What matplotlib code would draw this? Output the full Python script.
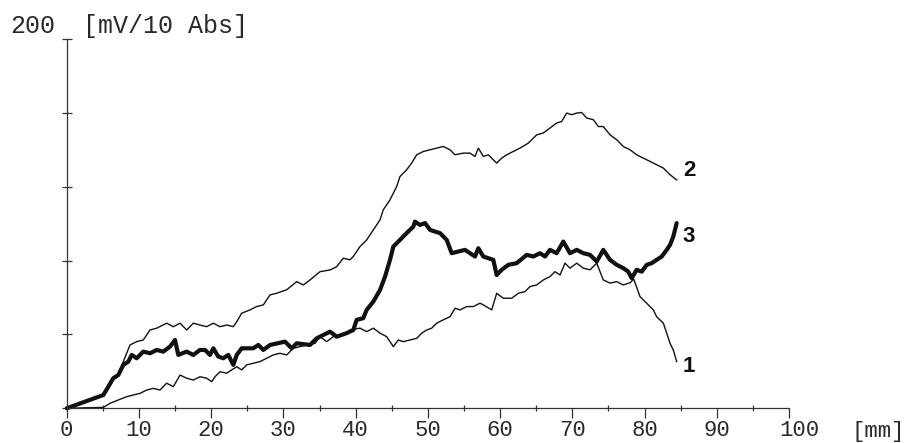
import matplotlib
matplotlib.use("Agg")
import matplotlib.pyplot as plt
from matplotlib.transforms import ScaledTranslation

# Absorbance profiles along the track, distance in mm, signal in mV/10 Abs
x1 = [0, 5.07, 6.0, 7.14, 8.31, 9.22, 10.15, 11.08, 11.99, 12.92, 13.84, 14.76,
      15.69, 16.61, 17.53, 18.45, 19.38, 20.07, 20.53, 21.22, 22.15, 22.84, 23.54,
      24.23, 24.92, 25.83, 26.76, 27.69, 28.6, 29.53, 30.46, 31.37, 32.3, 33.23,
      34.38, 35.07, 35.99, 36.91, 37.84, 38.76, 39.22, 40.61, 41.53, 42.45, 43.38,
      44.3, 45.22, 45.91, 46.6, 47.53, 48.46, 49.15, 49.84, 50.53, 51.22, 52.14,
      53.07, 53.76, 54.45, 55.38, 56.29, 57.22, 57.68, 58.84, 59.53, 60.45, 61.61,
      62.53, 63.45, 64.14, 65.07, 65.98, 66.91, 67.6, 68.3, 68.99, 69.68, 70.61,
      71.52, 72.45, 73.38, 74.29, 75.22, 76.15, 77.06, 77.99, 78.5, 79.37, 80.3,
      81.21, 81.68, 82.6, 83.07, 83.53, 83.98, 84.45]
y1 = [0, 0.5, 2.7, 4.5, 6.3, 7.2, 8.1, 9.9, 10.8, 9.9, 13.6, 11.7,
      18.0, 16.3, 15.3, 17.1, 16.3, 14.4, 17.1, 19.8, 19.0, 20.8, 22.5,
      20.8, 23.5, 24.4, 25.3, 27.1, 28.9, 29.8, 28.9, 32.5, 33.4, 34.3,
      35.2, 38.8, 36.1, 38.8, 39.7, 40.7, 42.4, 43.4, 41.5, 43.4, 40.7,
      38.8, 33.4, 37.0, 36.1, 37.0, 37.9, 40.7, 42.4, 43.4, 46.1, 47.9,
      49.6, 54.2, 53.3, 55.1, 55.1, 56.9, 56.0, 53.3, 62.3, 59.6, 59.6,
      62.3, 63.2, 65.9, 66.8, 69.5, 71.3, 74.0, 72.2, 78.6, 75.9, 78.6,
      75.9, 75.0, 78.6, 69.5, 67.8, 68.6, 66.8, 68.0, 70.0, 60.5, 56.9,
      53.3, 49.6, 46.1, 40.7, 35.2, 31.6, 25.3]

x2 = [0, 5.07, 5.76, 6.45, 7.14, 7.84, 8.76, 9.69, 10.6, 11.53, 12.46, 13.84,
      14.76, 15.69, 16.61, 17.53, 18.45, 19.38, 20.3, 21.22, 22.15, 23.07, 23.54,
      24.23, 25.38, 26.3, 27.22, 28.15, 29.07, 30.46, 31.84, 32.76, 33.68, 35.07,
      36.45, 37.38, 38.29, 39.22, 39.68, 40.61, 41.53, 42.45, 43.38, 43.83, 44.76,
      45.68, 46.14, 47.07, 47.76, 48.46, 49.38, 50.3, 51.22, 52.14, 53.07, 53.76,
      54.91, 55.84, 56.53, 56.99, 57.68, 58.37, 59.06, 59.53, 60.22, 60.92, 61.83,
      62.76, 63.91, 65.07, 65.98, 66.91, 67.84, 68.53, 69.22, 69.92, 70.61, 71.3,
      71.99, 72.91, 73.6, 74.29, 75.22, 76.15, 77.06, 77.99, 78.91, 79.83, 80.76,
      81.68, 82.6, 83.53, 84.45]
y2 = [0, 7.2, 11.7, 16.3, 18.5, 25.3, 34.3, 36.1, 37.0, 42.4, 43.4, 46.1,
      44.2, 46.1, 42.4, 46.1, 45.1, 44.2, 46.1, 44.2, 45.1, 44.2, 46.9,
      51.5, 53.3, 55.1, 56.0, 61.4, 62.3, 64.2, 68.6, 66.8, 69.5, 74.0,
      74.9, 76.7, 81.3, 80.4, 82.2, 87.6, 91.2, 96.6, 102.1, 107.5, 112.9,
      120.1, 125.5, 129.2, 132.8, 137.3, 139.1, 140.0, 140.9, 141.8, 140.0, 137.3,
      138.2, 138.2, 136.4, 140.9, 136.4, 137.3, 134.6, 132.8, 135.5, 137.3, 139.1,
      140.9, 143.6, 148.1, 149.1, 151.8, 154.5, 155.3, 159.9, 159.0, 159.9, 160.2,
      157.2, 156.3, 152.6, 152.6, 148.1, 145.4, 141.8, 140.0, 137.3, 135.5, 133.7,
      131.9, 130.1, 126.5, 123.7]

x3 = [0, 5.07, 5.76, 6.45, 7.14, 7.84, 8.53, 9.0, 9.69, 10.6, 11.53, 12.46,
      13.37, 14.3, 15.0, 15.45, 16.6, 17.53, 18.45, 19.15, 19.84, 20.3, 20.99,
      21.68, 22.37, 23.07, 23.54, 24.23, 25.83, 26.53, 27.22, 28.15, 30.22, 31.15,
      31.84, 33.68, 34.61, 36.45, 37.38, 38.76, 39.68, 40.15, 41.06, 41.53, 42.45,
      43.38, 44.07, 44.76, 45.22, 46.14, 47.07, 47.99, 48.22, 48.91, 49.61, 50.3,
      50.99, 51.68, 52.61, 53.3, 54.22, 55.14, 55.84, 56.53, 56.99, 57.68, 59.06,
      59.53, 60.22, 61.14, 62.3, 63.69, 64.6, 65.53, 66.22, 66.91, 67.84, 68.75,
      69.68, 70.61, 71.52, 72.45, 73.38, 74.29, 75.22, 76.15, 77.06, 77.75, 78.22,
      78.91, 79.61, 80.3, 80.99, 81.68, 82.38, 83.07, 83.53, 83.98, 84.45]
y3 = [0, 7.2, 11.7, 16.3, 18.0, 23.5, 25.3, 28.9, 27.1, 30.7, 29.8, 31.6,
      30.7, 33.4, 37.0, 28.9, 30.7, 28.9, 31.6, 31.6, 28.9, 32.5, 28.0,
      27.1, 28.9, 23.5, 28.9, 32.5, 32.5, 34.3, 31.6, 34.3, 36.1, 32.5,
      35.2, 34.3, 37.9, 41.5, 38.8, 40.7, 42.4, 47.9, 48.8, 53.3, 57.8,
      64.1, 71.3, 80.4, 87.6, 91.2, 94.9, 98.4, 101.1, 99.3, 100.3, 96.6,
      95.7, 94.9, 91.2, 84.0, 84.9, 85.8, 84.0, 82.2, 86.7, 82.2, 80.4,
      72.2, 75.0, 77.7, 78.6, 83.1, 82.2, 84.0, 82.2, 85.8, 84.0, 90.3,
      84.0, 85.8, 84.0, 83.1, 79.5, 85.8, 80.4, 77.7, 75.9, 74.0, 70.5,
      75.0, 74.0, 77.7, 78.6, 80.4, 82.2, 85.8, 88.5, 93.0, 100.3]

series_labels = ["1", "2", "3"]
x_ticks = [0, 10, 20, 30, 40, 50, 60, 70, 80, 90, 100]
x_minor = [5, 15, 25, 35, 45, 55, 65, 75, 85, 95]
y_ticks = [0, 40, 80, 120, 160, 200]
y_max_label = "200"
y_unit = "[mV/10 Abs]"
x_unit = "[mm]"

W, H = 909, 443
fig = plt.figure(figsize=(W / 100, H / 100), dpi=100)
fig.patch.set_facecolor("white")

left, bottom = 66.7, 408.3
right, top = 789.0, 39.0
ax = fig.add_axes([left / W, (H - bottom) / H, (right - left) / W, (bottom - top) / H])
ax.set_xlim(0, 100)
ax.set_ylim(0, 200)

ink = "#111111"
txt = "#2a2a2a"
mono = "Liberation Mono"
fs = 18
fs_tick = 16

ax.plot(x1, y1, color=ink, lw=1.0, solid_joinstyle="round", clip_on=False)
ax.plot(x2, y2, color=ink, lw=1.0, solid_joinstyle="round", clip_on=False)
ax.plot(x3, y3, color=ink, lw=3.0, solid_joinstyle="round",
        solid_capstyle="round", clip_on=False)

# curve numbers beside the line ends
label_pos = {"1": y1[-1] - 2.5, "2": y2[-1] + 5.0, "3": y3[-1] - 7.5}
for s in series_labels:
    ax.text(85.3, label_pos[s], s, ha="left", va="center",
            fontsize=16, fontweight="bold", family="Liberation Sans",
            color=ink, clip_on=False)

for side in ("top", "right"):
    ax.spines[side].set_visible(False)
for side in ("left", "bottom"):
    ax.spines[side].set_color("#333333")
    ax.spines[side].set_linewidth(0.9)

ax.set_yticks(y_ticks)
ax.set_yticklabels([])
ax.tick_params(axis="y", direction="inout", length=6.5, width=0.9, color="#333333")

ax.set_xticks(x_ticks)
ax.set_xticks(x_minor, minor=True)
ax.set_xticklabels([str(t) for t in x_ticks], family=mono, fontsize=fs_tick, color=txt)
ax.tick_params(axis="x", which="major", direction="out", length=7, width=0.9,
               color="#333333", pad=1.5)
ax.tick_params(axis="x", which="minor", direction="inout", length=4, width=0.9,
               color="#333333")

# the last distance label sits a little right of its tick
last = ax.get_xticklabels()[-1]
last.set_transform(last.get_transform() + ScaledTranslation(0.10, 0, fig.dpi_scale_trans))

# axis captions
fig.text(10 / W, 1 - 33 / H, y_max_label, family=mono, fontsize=fs,
         color=txt, va="baseline", ha="left")
fig.text(83 / W, 1 - 33 / H, y_unit, family=mono, fontsize=fs,
         color=txt, va="baseline", ha="left")
fig.text(905 / W, 1 - 437 / H, x_unit, family=mono, fontsize=fs_tick,
         color=txt, va="baseline", ha="right")

fig.savefig("out.png", dpi=100, facecolor="white")
